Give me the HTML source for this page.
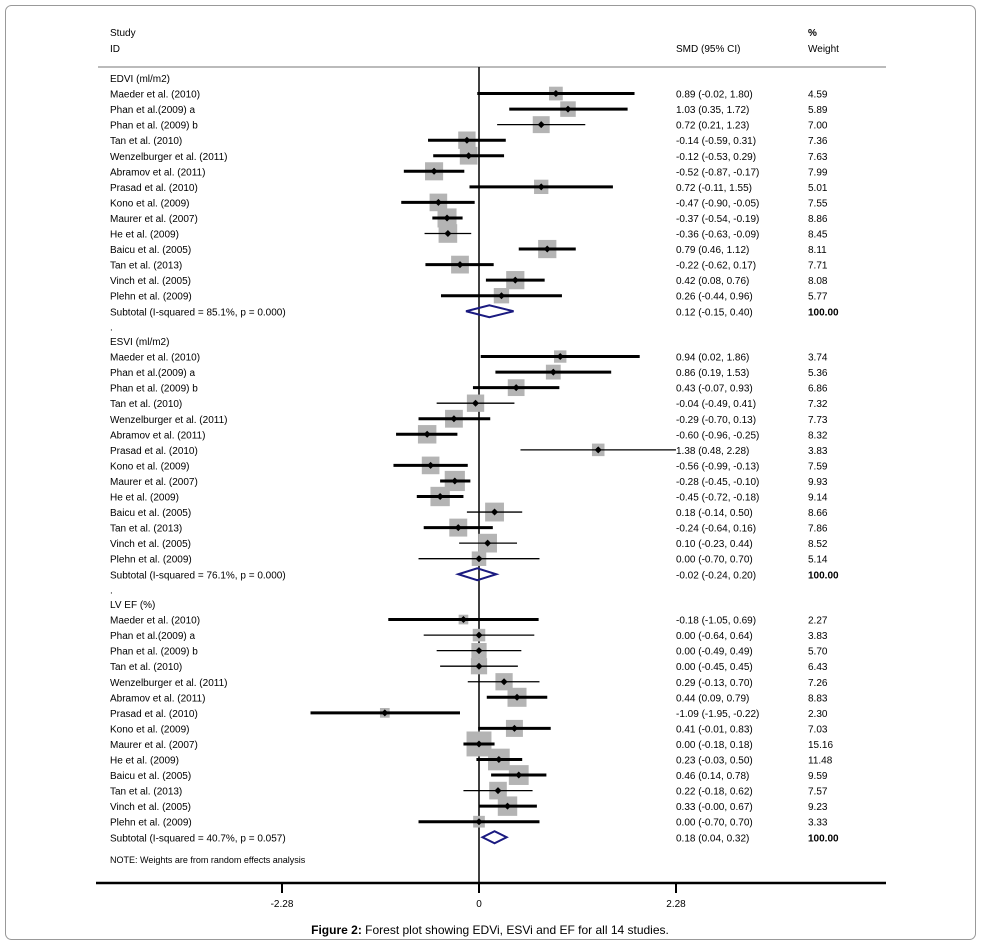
<!DOCTYPE html>
<html><head><meta charset="utf-8"><style>
html,body{margin:0;padding:0;background:#fff;}
svg{display:block;font-family:"Liberation Sans",Arial,sans-serif;}
</style></head><body>
<svg id="s" width="988" height="950" xmlns="http://www.w3.org/2000/svg">
<rect x="5.5" y="5.5" width="970" height="934" rx="6" fill="#fff" stroke="#999" stroke-width="1"/>
<g font-size="10" fill="#000">
<text x="110" y="36">Study</text>
<text x="110" y="52">ID</text>
<text x="676" y="52">SMD (95% CI)</text>
<text x="808" y="36" font-weight="bold">%</text>
<text x="808" y="52">Weight</text>
</g>
<line x1="98" y1="67" x2="886" y2="67" stroke="#bbb" stroke-width="2"/>
<line x1="479" y1="67" x2="479" y2="883" stroke="#000" stroke-width="1.5"/>
<line x1="96" y1="883" x2="886" y2="883" stroke="#000" stroke-width="2.5"/>
<g stroke="#000" stroke-width="2"><line x1="282" y1="883" x2="282" y2="893"/><line x1="479" y1="883" x2="479" y2="893"/><line x1="676" y1="883" x2="676" y2="893"/></g>
<g font-size="10" text-anchor="middle"><text x="282" y="907">-2.28</text><text x="479" y="907">0</text><text x="676" y="907">2.28</text></g>
<text x="490" y="934" font-size="12" text-anchor="middle"><tspan font-weight="bold">Figure 2:</tspan> Forest plot showing EDVi, ESVi and EF for all 14 studies.</text>
<g id="g"></g>
</svg>
<script>
const S=86.4,Z=479,g=document.getElementById('g');let h='';
const names=["Maeder et al. (2010)","Phan et al.(2009) a","Phan et al. (2009) b","Tan et al. (2010)","Wenzelburger et al. (2011)","Abramov et al. (2011)","Prasad et al. (2010)","Kono et al. (2009)","Maurer et al. (2007)","He et al. (2009)","Baicu et al. (2005)","Tan et al. (2013)","Vinch et al. (2005)","Plehn et al. (2009)"];
const sets=[
{t:"EDVI (ml/m2)",y:82,d:[[.89,-.02,1.80,4.59],[1.03,.35,1.72,5.89],[.72,.21,1.23,7.00],[-.14,-.59,.31,7.36],[-.12,-.53,.29,7.63],[-.52,-.87,-.17,7.99],[.72,-.11,1.55,5.01],[-.47,-.90,-.05,7.55],[-.37,-.54,-.19,8.86],[-.36,-.63,-.09,8.45],[.79,.46,1.12,8.11],[-.22,-.62,.17,7.71],[.42,.08,.76,8.08],[.26,-.44,.96,5.77]],s:[.12,-.15,.40,"85.1%","0.000"],thin:[2,9]},
{t:"ESVI (ml/m2)",y:345,d:[[.94,.02,1.86,3.74],[.86,.19,1.53,5.36],[.43,-.07,.93,6.86],[-.04,-.49,.41,7.32],[-.29,-.70,.13,7.73],[-.60,-.96,-.25,8.32],[1.38,.48,2.28,3.83],[-.56,-.99,-.13,7.59],[-.28,-.45,-.10,9.93],[-.45,-.72,-.18,9.14],[.18,-.14,.50,8.66],[-.24,-.64,.16,7.86],[.10,-.23,.44,8.52],[0,-.70,.70,5.14]],s:[-.02,-.24,.20,"76.1%","0.000"],thin:[6,13,3,10,12]},
{t:"LV EF (%)",y:608,d:[[-.18,-1.05,.69,2.27],[0,-.64,.64,3.83],[0,-.49,.49,5.70],[0,-.45,.45,6.43],[.29,-.13,.70,7.26],[.44,.09,.79,8.83],[-1.09,-1.95,-.22,2.30],[.41,-.01,.83,7.03],[0,-.18,.18,15.16],[.23,-.03,.50,11.48],[.46,.14,.78,9.59],[.22,-.18,.62,7.57],[.33,0,.67,9.23],[0,-.70,.70,3.33]],s:[.18,.04,.32,"40.7%","0.057"],thin:[1,2,3,4,11]}];
const f=v=>(v<0?"-":"")+Math.abs(v).toFixed(2);
sets.forEach((st,si)=>{
 let y=st.y;h+=`<text x="110" y="${y}" font-size="10">${st.t}</text>`;
 st.d.forEach((r,i)=>{const yy=y+15.55*(i+1);const yc=yy-4;
  const [p,l,u,w]=r;const s=6.4*Math.sqrt(w);const x=Z+p*S;
  h+=`<rect x="${x-s/2}" y="${yc-s/2}" width="${s}" height="${s}" fill="#b4b4b4"/>`;
  const sw=st.thin.includes(i)?1.3:3;
  h+=`<line x1="${Z+l*S}" y1="${yc}" x2="${Z+u*S}" y2="${yc}" stroke="#000" stroke-width="${sw}"/>`;
  h+=`<path d="M${x-3.5} ${yc}L${x} ${yc-3.5}L${x+3.5} ${yc}L${x} ${yc+3.5}Z" fill="#000"/>`;
  h+=`<text x="110" y="${yy}" font-size="10">${names[i]}</text>`;
  let ls=(si==2&&i==12)?"-0.00":f(l);
  h+=`<text x="676" y="${yy}" font-size="10">${f(p)} (${ls}, ${f(u)})</text><text x="808" y="${yy}" font-size="10">${w.toFixed(2)}</text>`;
 });
 const yy=y+15.55*15,yc=yy-4,[p,l,u,I,P]=st.s;
 h+=`<path d="M${Z+l*S} ${yc}L${Z+p*S} ${yc-6}L${Z+u*S} ${yc}L${Z+p*S} ${yc+6}Z" fill="none" stroke="#1a1a80" stroke-width="2"/>`;
 h+=`<text x="110" y="${yy}" font-size="10">Subtotal  (I-squared = ${I}, p = ${P})</text>`;
 h+=`<text x="676" y="${yy}" font-size="10">${f(p)} (${f(l)}, ${f(u)})</text><text x="808" y="${yy}" font-size="10" font-weight="bold">100.00</text>`;
 if(si<2)h+=`<text x="110" y="${yy+15}" font-size="10">.</text>`;
});
h+=`<text x="110" y="863" font-size="9">NOTE: Weights are from random effects analysis</text>`;
g.innerHTML=h;
</script>
</body></html>
